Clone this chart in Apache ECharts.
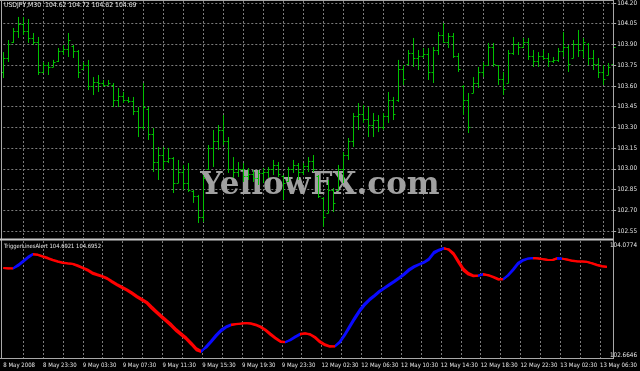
<!DOCTYPE html>
<html><head><meta charset="utf-8">
<script src="https://cdn.jsdelivr.net/npm/echarts/dist/echarts.min.js"></script>
<style>html,body{margin:0;padding:0;background:#000;}#c{width:640px;height:371px;}</style>
</head><body><div id="c"></div>
<script>
const tickLabels = ['8 May 2008','8 May 23:30','9 May 03:30','9 May 07:30','9 May 11:30','9 May 15:30','9 May 19:30','9 May 23:30','12 May 02:30','12 May 06:30','12 May 10:30','12 May 14:30','12 May 18:30','12 May 22:30','13 May 02:30','13 May 06:30'];
const priceTitle = 'USDJPY,M30  104.62 104.72 104.62 104.69';
const indTitle = 'TriggerLinesAlert 104.6921 104.6952';
const watermark = 'YellowFX.com';
const priceMin = 102.55, priceMax = 104.20, priceStep = 0.15;
const indMin = 102.6646, indMax = 104.0774;

const barHigh = [103.845,103.932,104.019,104.099,104.099,104.084,103.983,103.954,103.773,103.773,
103.788,103.874,103.896,103.983,103.896,103.860,103.773,103.788,103.664,103.679,
103.643,103.643,103.621,103.585,103.556,103.520,103.520,103.447,103.621,103.447,
103.295,103.158,103.158,103.151,103.085,103.064,103.028,103.042,102.847,102.811,
102.955,103.172,103.281,103.317,103.389,103.230,103.085,103.049,103.042,103.006,
102.991,102.991,103.006,103.013,103.064,103.049,102.955,103.013,103.064,103.042,
103.042,103.085,103.100,102.955,102.796,102.919,102.861,103.028,103.122,103.223,
103.404,103.476,103.462,103.447,103.404,103.389,103.404,103.556,103.520,103.788,
103.751,103.860,103.947,103.860,103.874,103.874,103.882,103.990,104.055,103.983,
103.983,103.838,103.607,103.549,103.664,103.737,103.773,103.911,103.911,103.751,
103.701,103.860,103.954,103.918,103.947,103.947,103.860,103.845,103.860,103.838,
103.809,103.874,103.990,103.896,103.932,104.005,103.947,103.911,103.860,103.802,
103.751,103.766,103.932];
const barLow = [103.657,103.773,103.911,103.947,103.968,103.911,103.896,103.679,103.693,103.679,
103.737,103.773,103.824,103.809,103.802,103.657,103.715,103.570,103.534,103.556,
103.592,103.607,103.447,103.447,103.476,103.476,103.389,103.230,103.281,103.209,
102.977,102.919,102.991,103.042,102.825,102.897,102.847,102.832,102.753,102.608,
102.615,102.991,103.013,103.136,103.172,102.970,102.934,102.941,102.905,102.919,
102.905,102.883,102.897,102.934,102.955,102.941,102.774,102.905,102.970,102.919,
102.955,102.977,102.977,102.789,102.579,102.680,102.687,102.847,102.897,103.064,
103.158,103.281,103.332,103.230,103.230,103.266,103.281,103.332,103.353,103.484,
103.607,103.751,103.737,103.715,103.802,103.643,103.621,103.824,103.911,103.874,
103.802,103.701,103.389,103.259,103.549,103.585,103.664,103.751,103.737,103.607,
103.534,103.621,103.824,103.824,103.874,103.788,103.737,103.737,103.788,103.737,
103.766,103.773,103.809,103.701,103.802,103.809,103.802,103.751,103.715,103.657,
103.607,103.679,103.751];
const barOpen = [103.70,103.80,103.92,104.00,104.05,104.00,103.95,103.92,103.70,103.75,
103.74,103.78,103.85,103.87,103.89,103.85,103.72,103.75,103.60,103.63,
103.62,103.61,103.61,103.50,103.53,103.50,103.49,103.42,103.30,103.43,
103.25,103.05,103.10,103.06,103.08,102.90,102.98,102.90,102.84,102.80,
102.65,103.00,103.15,103.20,103.28,103.20,103.00,102.98,103.00,102.95,
102.96,102.93,102.97,102.98,103.00,103.03,102.95,102.91,103.00,103.03,
102.98,103.02,103.06,102.95,102.79,102.68,102.85,102.85,103.00,103.10,
103.20,103.38,103.40,103.36,103.32,103.35,103.30,103.38,103.50,103.50,
103.72,103.76,103.84,103.80,103.82,103.83,103.70,103.86,103.97,103.92,
103.96,103.82,103.60,103.50,103.55,103.62,103.70,103.75,103.88,103.75,
103.65,103.62,103.84,103.90,103.88,103.92,103.82,103.78,103.82,103.80,
103.78,103.79,103.85,103.88,103.80,103.90,103.86,103.90,103.80,103.76,
103.70,103.68,103.76];
const barClose = [103.80,103.90,104.00,104.05,104.00,103.95,103.92,103.70,103.75,103.74,
103.77,103.85,103.87,103.93,103.85,103.70,103.75,103.60,103.63,103.62,
103.61,103.62,103.50,103.53,103.50,103.49,103.42,103.30,103.45,103.25,
103.05,103.10,103.06,103.08,102.90,102.98,102.90,102.85,102.80,102.65,
102.93,103.15,103.20,103.28,103.20,103.00,102.98,103.00,102.95,102.96,
102.93,102.97,102.98,103.00,103.03,102.96,102.90,103.00,103.03,102.98,
103.02,103.06,103.00,102.80,102.65,102.85,102.75,103.00,103.10,103.20,
103.38,103.40,103.36,103.32,103.35,103.30,103.38,103.50,103.40,103.72,
103.65,103.84,103.80,103.82,103.83,103.70,103.86,103.97,103.92,103.96,
103.82,103.72,103.50,103.30,103.62,103.70,103.75,103.88,103.76,103.65,
103.58,103.84,103.90,103.88,103.92,103.82,103.78,103.82,103.80,103.78,
103.79,103.85,103.88,103.76,103.90,103.86,103.92,103.80,103.76,103.70,
103.65,103.74,103.88];

const lineMain = [103.804,103.799,103.803,103.851,103.905,103.959,103.997,103.982,103.957,103.935,
103.909,103.889,103.875,103.867,103.860,103.833,103.803,103.772,103.728,103.708,
103.685,103.656,103.610,103.569,103.533,103.497,103.453,103.405,103.367,103.323,
103.253,103.192,103.131,103.072,103.012,102.944,102.889,102.834,102.764,102.689,
102.665,102.743,102.818,102.900,102.968,103.011,103.038,103.046,103.052,103.059,
103.049,103.029,102.999,102.954,102.896,102.845,102.800,102.796,102.832,102.877,
102.913,102.919,102.900,102.855,102.794,102.756,102.737,102.743,102.809,102.910,
103.025,103.136,103.239,103.321,103.386,103.439,103.497,103.541,103.586,103.631,
103.679,103.732,103.792,103.830,103.859,103.887,103.932,104.023,104.054,104.077,
104.054,103.986,103.874,103.769,103.715,103.692,103.701,103.724,103.705,103.678,
103.647,103.654,103.712,103.789,103.875,103.916,103.935,103.942,103.935,103.924,
103.914,103.914,103.942,103.932,103.918,103.901,103.895,103.894,103.887,103.867,
103.844,103.826,103.819];
const lineSignal = [103.806,103.804,103.800,103.835,103.888,103.942,103.990,103.988,103.965,103.944,
103.920,103.898,103.882,103.871,103.864,103.843,103.815,103.786,103.745,103.720,
103.697,103.670,103.628,103.588,103.551,103.516,103.474,103.428,103.388,103.346,
103.282,103.220,103.158,103.098,103.040,102.972,102.916,102.860,102.792,102.716,
102.680,102.722,102.795,102.875,102.945,102.995,103.028,103.040,103.049,103.058,
103.054,103.038,103.012,102.970,102.915,102.862,102.812,102.800,102.822,102.862,
102.902,102.916,102.908,102.870,102.812,102.770,102.745,102.740,102.790,102.885,
102.995,103.105,103.208,103.295,103.365,103.420,103.478,103.524,103.568,103.614,
103.660,103.712,103.770,103.815,103.848,103.876,103.915,104.000,104.040,104.070,
104.062,104.010,103.905,103.800,103.738,103.705,103.703,103.716,103.710,103.688,
103.660,103.652,103.700,103.770,103.855,103.905,103.930,103.940,103.938,103.928,
103.918,103.915,103.935,103.933,103.922,103.906,103.898,103.895,103.889,103.872,
103.851,103.832,103.822];
// bar-index ranges where the indicator is drawn blue (up state)
const upSegments = [[2,6],[40,46],[57,60],[67,89],[96,97],[101,107],[112,113]];

const categories = barHigh.map((_, i) => i);
const ohlc = barHigh.map((h, i) => [i, barOpen[i], barClose[i], barLow[i], h]);

const FONT = 'DejaVu Sans Condensed';
const TXT = '#e6e6e6';
const GRIDC = '#7c7c7c';
const FRAME = '#a8a8a8';
const GREEN = '#00c000';
const L = 3.3, R = 26.7;

const chart = echarts.init(document.getElementById('c'), null, {renderer: 'canvas'});
const splitEvery4 = (i) => i % 4 === 0 && i > 0;

chart.setOption({
  backgroundColor: '#000',
  animation: false,
  grid: [
    {left: L, right: R, top: 3, height: 228},      // price data
    {left: L, right: R, top: 248, height: 104},    // indicator data
    {left: L, right: R, top: 1, height: 237},      // price frame
    {left: L, right: R, top: 241, height: 117}     // indicator frame
  ],
  xAxis: [
    {gridIndex: 0, type: 'category', data: categories, boundaryGap: false, show: false},
    {gridIndex: 1, type: 'category', data: categories, boundaryGap: false, show: false},
    {gridIndex: 2, type: 'category', data: categories, boundaryGap: false,
      axisLine: {show: false}, axisTick: {show: false}, axisLabel: {show: false},
      splitLine: {show: true, interval: splitEvery4, lineStyle: {color: GRIDC, type: [2, 2], width: 1}}},
    {gridIndex: 3, type: 'category', data: categories, boundaryGap: false,
      axisLine: {show: false}, axisTick: {show: false},
      splitLine: {show: true, interval: splitEvery4, lineStyle: {color: GRIDC, type: [2, 2], width: 1}},
      axisLabel: {show: true, interval: (i) => i % 8 === 0, formatter: (v, i) => tickLabels[i / 8] || '',
        align: 'left', color: TXT, fontSize: 6, fontFamily: FONT, margin: 4, hideOverlap: false}}
  ],
  yAxis: [
    {gridIndex: 0, type: 'value', position: 'right', min: priceMin, max: priceMax, interval: priceStep,
      axisLine: {show: false}, axisTick: {show: true, length: 3, lineStyle: {color: FRAME}},
      axisLabel: {color: TXT, fontSize: 6.3, fontFamily: FONT, margin: 4, formatter: (v) => v.toFixed(2)},
      splitLine: {show: true, lineStyle: {color: GRIDC, type: [2, 2], width: 1}}},
    {gridIndex: 1, type: 'value', position: 'right', min: indMin, max: indMax, interval: indMax - indMin,
      axisLine: {show: false}, axisTick: {show: false}, splitLine: {show: false},
      axisLabel: {color: TXT, fontSize: 6.3, fontFamily: FONT, margin: 3,
        formatter: (v) => (v > (indMin + indMax) / 2 ? '{t|' : '{b|') + v.toFixed(4) + '}',
        rich: {t: {padding: [0, 0, 6, 0], color: TXT, fontSize: 6.3, fontFamily: FONT},
               b: {padding: [6, 0, 0, 0], color: TXT, fontSize: 6.3, fontFamily: FONT}}}},
    {gridIndex: 2, type: 'value', min: 0, max: 1, show: false},
    {gridIndex: 3, type: 'value', min: 0, max: 1, show: false}
  ],
  visualMap: {
    type: 'piecewise', show: false, dimension: 0, seriesIndex: [1, 2],
    pieces: upSegments.map(s => ({gte: s[0], lte: s[1], color: '#0a0aff'})),
    outOfRange: {color: '#ff0000'}
  },
  graphic: [
    {type: 'text', left: 'center', top: 170, z: 1, silent: true,
      style: {text: watermark, font: "bold 31px 'DejaVu Serif'", fill: '#a0a0a0'}},
    {type: 'text', left: 4, top: 2, z: 10, style: {text: priceTitle, fontSize: 6.8, fontFamily: FONT, fill: TXT}},
    {type: 'text', left: 4, top: 243, z: 10, style: {text: indTitle, fontSize: 5.8, fontFamily: FONT, fill: TXT}},
    {type: 'line', z: 5, shape: {x1: 0, y1: 0.5, x2: 614, y2: 0.5}, style: {stroke: FRAME, lineWidth: 1}},
    {type: 'line', z: 5, shape: {x1: 1.5, y1: 0, x2: 1.5, y2: 359}, style: {stroke: FRAME, lineWidth: 1}},
    {type: 'line', z: 5, shape: {x1: 0, y1: 239.5, x2: 614, y2: 239.5}, style: {stroke: '#c8c8c8', lineWidth: 2}},
    {type: 'line', z: 5, shape: {x1: 0, y1: 358.5, x2: 614, y2: 358.5}, style: {stroke: FRAME, lineWidth: 1}},
    {type: 'line', z: 5, shape: {x1: 613.5, y1: 0, x2: 613.5, y2: 359}, style: {stroke: FRAME, lineWidth: 1}}
  ],
  series: [
    {type: 'custom', xAxisIndex: 0, yAxisIndex: 0, z: 3, data: ohlc,
      renderItem: function (params, api) {
        const i = api.value(0);
        const o = api.coord([i, api.value(1)]);
        const c = api.coord([i, api.value(2)]);
        const lo = api.coord([i, api.value(3)]);
        const hi = api.coord([i, api.value(4)]);
        const x = Math.round(hi[0]) + 0.5;
        const st = {stroke: GREEN, lineWidth: 1};
        return {type: 'group', children: [
          {type: 'line', shape: {x1: x, y1: hi[1], x2: x, y2: lo[1]}, style: st},
          {type: 'line', shape: {x1: x - 2, y1: Math.round(o[1]) + 0.5, x2: x, y2: Math.round(o[1]) + 0.5}, style: st},
          {type: 'line', shape: {x1: x, y1: Math.round(c[1]) + 0.5, x2: x + 2, y2: Math.round(c[1]) + 0.5}, style: st}
        ]};
      }},
    {type: 'line', xAxisIndex: 1, yAxisIndex: 1, data: lineMain, symbol: 'none', z: 4,
      lineStyle: {width: 2}},
    {type: 'line', xAxisIndex: 1, yAxisIndex: 1, data: lineSignal, symbol: 'none', z: 4,
      lineStyle: {width: 2}}
  ]
});
</script></body></html>
